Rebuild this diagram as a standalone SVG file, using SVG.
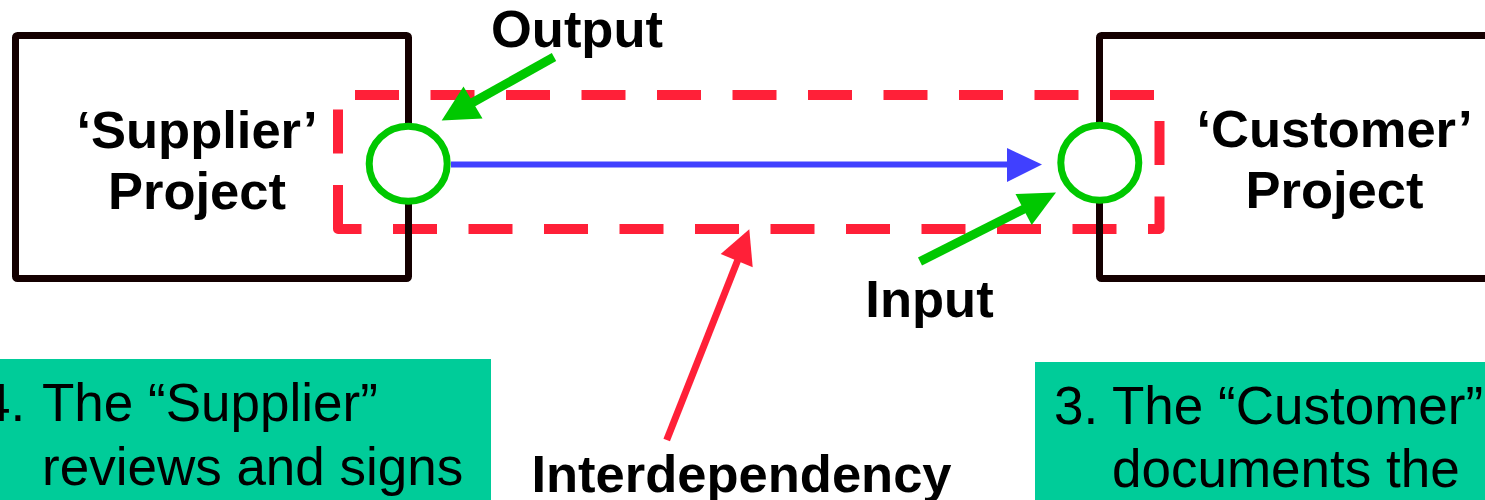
<svg xmlns="http://www.w3.org/2000/svg" width="1485" height="500" viewBox="0 0 1485 500">
  <style>
    .label { font-family: "Liberation Sans", Arial, sans-serif; font-weight: bold; font-size: 52.5px; fill: #000; }
    .note { font-family: "Liberation Sans", Arial, sans-serif; font-size: 53px; fill: #000; }
    .project { fill: none; stroke: #140000; stroke-width: 7; }
    .port { fill: #fff; stroke: #00C800; stroke-width: 7; }
    .boundary { fill: none; stroke: #FF2038; stroke-width: 10; stroke-dasharray: 44 31.5; stroke-linejoin: round; }
    .notebox { fill: #00CC99; }
  </style>

  <rect width="1485" height="500" fill="#fff"/>

  <!-- interdependency boundary (dashed) -->
  <g id="interdependency-boundary">
    <path class="boundary" d="M338,229 L338,95 L1159.5,95 L1159.5,229 Z"/>
  </g>

  <!-- supplier project -->
  <g id="supplier-project">
    <rect class="project" x="15.5" y="35.5" width="393" height="243" rx="2"/>
    <text class="label" x="197" y="148" text-anchor="middle">‘Supplier’</text>
    <text class="label" x="197" y="209" text-anchor="middle">Project</text>
  </g>

  <!-- customer project -->
  <g id="customer-project">
    <rect class="project" x="1099.5" y="35.5" width="420" height="243" rx="2"/>
    <text class="label" x="1334.5" y="146.5" text-anchor="middle">‘Customer’</text>
    <text class="label" x="1334.5" y="208" text-anchor="middle">Project</text>
  </g>

  <!-- output / input ports -->
  <g id="output-port">
    <ellipse class="port" cx="408.2" cy="163.7" rx="39" ry="37.5"/>
  </g>
  <g id="input-port">
    <ellipse class="port" cx="1099.8" cy="162.7" rx="39" ry="37.5"/>
  </g>

  <!-- connectors -->
  <g id="connectors">
    <!-- deliverable flow -->
    <line x1="451" y1="164.5" x2="1010" y2="164.5" stroke="#4040FF" stroke-width="6"/>
    <polygon points="1042,164.5 1007,148 1007,182" fill="#4040FF"/>

    <!-- output pointer -->
    <line x1="554" y1="57" x2="470" y2="104" stroke="#00C800" stroke-width="9"/>
    <polygon points="441.7,120.5 463.5,86.5 482.5,118.5" fill="#00C800"/>

    <!-- input pointer -->
    <line x1="920" y1="261.5" x2="1026" y2="208" stroke="#00C800" stroke-width="9"/>
    <polygon points="1056,192.5 1015.5,194 1031.7,225" fill="#00C800"/>

    <!-- interdependency pointer -->
    <line x1="666.7" y1="440" x2="739" y2="257" stroke="#FF2038" stroke-width="7"/>
    <polygon points="749.3,229.3 720.7,254 752.7,267.3" fill="#FF2038"/>
  </g>

  <!-- pointer labels -->
  <g id="output-label">
    <text class="label" x="577" y="46.5" text-anchor="middle">Output</text>
  </g>
  <g id="input-label">
    <text class="label" x="929.5" y="316.5" text-anchor="middle">Input</text>
  </g>
  <g id="interdependency-label">
    <text class="label" x="741.5" y="491.5" text-anchor="middle">Interdependency</text>
  </g>

  <!-- step notes -->
  <g id="step-4-note">
    <rect class="notebox" x="0" y="359" width="491" height="141"/>
    <text class="note" y="421"><tspan x="-19">4.</tspan><tspan x="42">The “Supplier”</tspan></text>
    <text class="note" x="42" y="485">reviews and signs</text>
  </g>
  <g id="step-3-note">
    <rect class="notebox" x="1035" y="362" width="450" height="138"/>
    <text class="note" y="423.5"><tspan x="1054">3.</tspan><tspan x="1112">The “Customer”</tspan></text>
    <text class="note" x="1112" y="486.5">documents the</text>
  </g>
</svg>
